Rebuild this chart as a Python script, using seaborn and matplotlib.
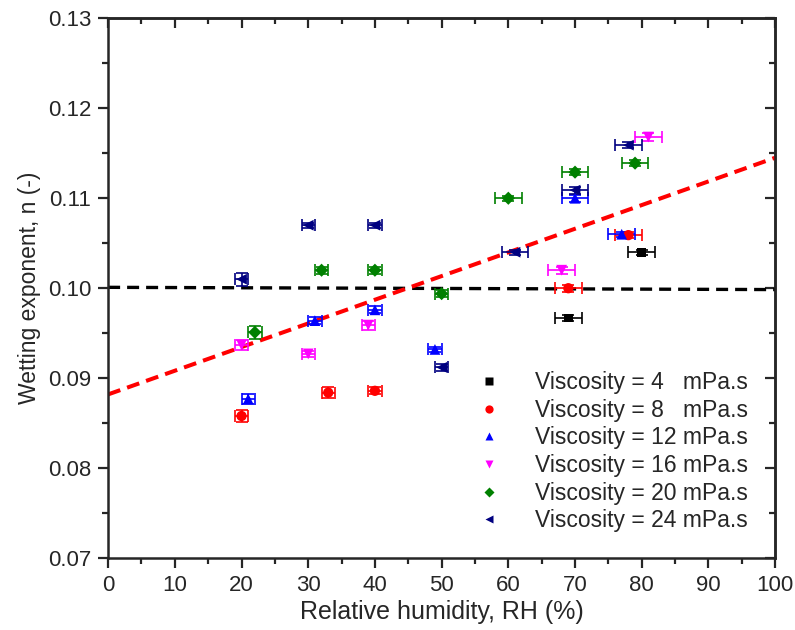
import numpy as np
import pandas as pd
import seaborn as sns
import matplotlib.pyplot as plt
from matplotlib.ticker import MultipleLocator

# data (RH %, wetting exponent n, errors)
rh_4 = [69, 80]
n_4 = [0.0967, 0.1040]
xe_4 = [2, 2]
ye_4 = [0.0003, 0.0003]

rh_8 = [20, 33, 40, 69, 78]
n_8 = [0.0858, 0.0884, 0.0886, 0.1000, 0.1059]
xe_8 = [1, 1, 1, 2, 2]
ye_8 = [0.0007, 0.0006, 0.0004, 0.0004, 0.0003]

rh_12 = [21, 31, 40, 49, 70, 77]
n_12 = [0.0877, 0.0964, 0.0976, 0.0932, 0.1100, 0.1060]
xe_12 = [1, 1, 1, 1, 2, 2]
ye_12 = [0.0006, 0.0004, 0.0004, 0.0003, 0.0004, 0.0003]

rh_16 = [20, 30, 39, 68, 81]
n_16 = [0.0937, 0.0927, 0.0959, 0.1020, 0.1168]
xe_16 = [1, 1, 1, 2, 2]
ye_16 = [0.0006, 0.0003, 0.0005, 0.0004, 0.0004]

rh_20 = [22, 32, 40, 50, 60, 70, 79]
n_20 = [0.0951, 0.1020, 0.1020, 0.0994, 0.1100, 0.1129, 0.1139]
xe_20 = [1, 1, 1, 1, 2, 2, 2]
ye_20 = [0.0007, 0.0004, 0.0004, 0.0004, 0.0003, 0.0003, 0.0003]

rh_24 = [20, 30, 40, 50, 61, 70, 78]
n_24 = [0.1010, 0.1070, 0.1070, 0.0912, 0.1040, 0.1109, 0.1159]
xe_24 = [1, 1, 1, 1, 2, 2, 2]
ye_24 = [0.0007, 0.0003, 0.0003, 0.0004, 0.0003, 0.0004, 0.0003]

# fitted lines (end points)
fit_x = [0, 100]
mean_y = [0.10010, 0.09985]
trend_y = [0.0882, 0.1145]

labels = ['Viscosity = 4   mPa.s', 'Viscosity = 8   mPa.s', 'Viscosity = 12 mPa.s',
          'Viscosity = 16 mPa.s', 'Viscosity = 20 mPa.s', 'Viscosity = 24 mPa.s']
colors = ['black', '#ff0000', '#0000ff', '#ff00ff', '#008000', '#000080']
markers = ['s', 'o', '^', 'v', 'D', '<']
sizes = [40, 55, 60, 60, 45, 60]

series = [(rh_4, n_4, xe_4, ye_4), (rh_8, n_8, xe_8, ye_8), (rh_12, n_12, xe_12, ye_12),
          (rh_16, n_16, xe_16, ye_16), (rh_20, n_20, xe_20, ye_20), (rh_24, n_24, xe_24, ye_24)]

rows = []
for lab, (x, y, xe, ye) in zip(labels, series):
    for xi, yi, xei, yei in zip(x, y, xe, ye):
        rows.append({'RH': xi, 'n': yi, 'xerr': xei, 'yerr': yei, 'Series': lab})
df = pd.DataFrame(rows)

sns.set_style('ticks')
plt.rcParams['font.family'] = ['Liberation Sans', 'DejaVu Sans']

fig = plt.figure(figsize=(7.95, 6.3), dpi=100)
ax = fig.add_axes([0.136, 0.114, 0.839, 0.857])

ax.plot(fit_x, mean_y, color='black', ls=(0, (3.6, 2.1)), lw=2.4, zorder=1)
ax.plot(fit_x, trend_y, color='#ff0000', ls=(0, (3.2, 1.8)), lw=2.9, zorder=1)

for lab, col in zip(labels, colors):
    d = df[df['Series'] == lab]
    ax.errorbar(d['RH'], d['n'], xerr=d['xerr'], yerr=d['yerr'], fmt='none',
                ecolor=col, elinewidth=1.2, capsize=4, capthick=1.2, zorder=2)

sns.scatterplot(data=df, x='RH', y='n', hue='Series', style='Series',
                palette=dict(zip(labels, colors)), markers=dict(zip(labels, markers)),
                size='Series', sizes=dict(zip(labels, sizes)),
                edgecolor='none', ax=ax, zorder=3, legend='full')

ax.set_xlim(0, 100)
ax.set_ylim(0.07, 0.13)
ax.xaxis.set_major_locator(MultipleLocator(10))
ax.xaxis.set_minor_locator(MultipleLocator(5))
ax.yaxis.set_major_locator(MultipleLocator(0.01))
ax.yaxis.set_minor_locator(MultipleLocator(0.005))
ax.yaxis.set_major_formatter(plt.FormatStrFormatter('%.2f'))

ax.tick_params(which='major', direction='out', length=7, width=1.6, labelsize=16, pad=5)
ax.tick_params(which='minor', direction='out', length=4, width=1.6)
for s in ax.spines.values():
    s.set_linewidth(1.8)
    s.set_visible(True)

top = ax.secondary_xaxis('top')
top.xaxis.set_major_locator(MultipleLocator(10))
top.xaxis.set_minor_locator(MultipleLocator(5))
top.tick_params(which='major', direction='in', length=7, width=1.6, labeltop=False)
top.tick_params(which='minor', direction='in', length=4, width=1.6)
top.spines['top'].set_linewidth(1.8)
right = ax.secondary_yaxis('right')
right.yaxis.set_major_locator(MultipleLocator(0.01))
right.yaxis.set_minor_locator(MultipleLocator(0.005))
right.tick_params(which='major', direction='in', length=7, width=1.6, labelright=False)
right.tick_params(which='minor', direction='in', length=4, width=1.6)
right.spines['right'].set_linewidth(1.8)

ax.set_xlabel('Relative humidity, RH (%)', fontsize=18, labelpad=3)
ax.set_ylabel('Wetting exponent, n (-)', fontsize=16.5, labelpad=5)

handles, hlabels = ax.get_legend_handles_labels()
ax.legend(handles, hlabels, loc='lower right', bbox_to_anchor=(0.99, 0.01), frameon=False,
          fontsize=16.5, handletextpad=1.0, labelspacing=0.2, markerscale=0.8)

plt.savefig('out.png', dpi=100)
